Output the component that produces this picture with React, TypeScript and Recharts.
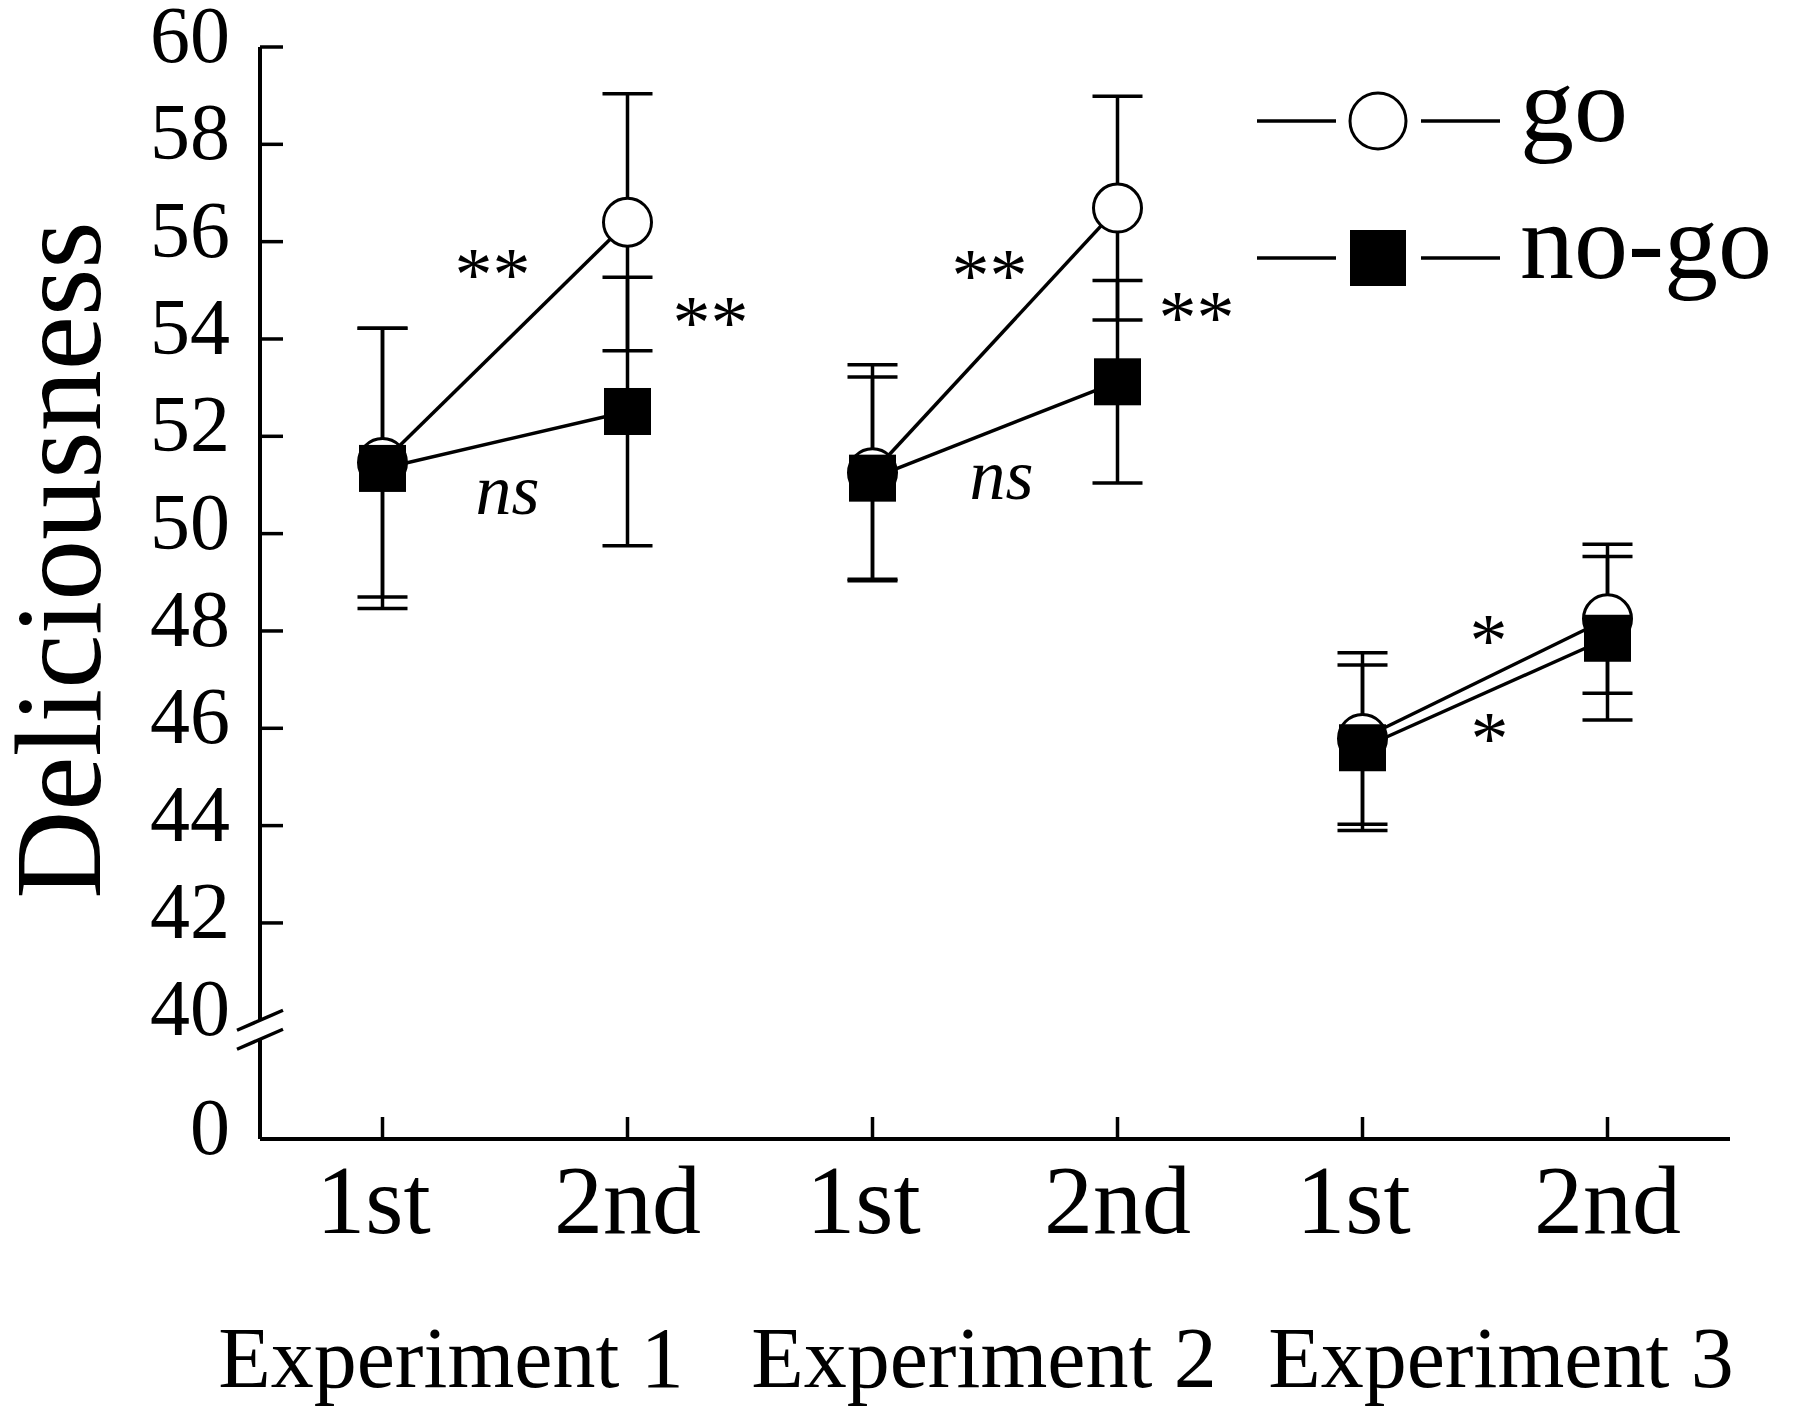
import React from "react";
import {
  LineChart,
  Line,
  XAxis,
  YAxis,
  ErrorBar,
  ReferenceLine,
  ReferenceDot,
  Legend,
  Label,
} from "recharts";

// values (mean ± error per session)
const categories = ["1st", "2nd", "1st", "2nd", "1st", "2nd"];
const experiments = ["Experiment 1", "Experiment 2", "Experiment 3"];
const goMean = [51.46, 56.4, 51.25, 56.69, 45.79, 48.25];
const goErr = [2.76, 2.64, 2.22, 2.3, 1.76, 1.53];
const nogoMean = [51.34, 52.51, 51.14, 53.12, 45.6, 47.85];
const nogoErr = [2.88, 2.76, 2.08, 2.08, 1.7, 1.68];
const seriesNames = ["go", "no-go"];

// axis: broken between 0 and 40, the floor stands in for "0"
const Y_FLOOR = 37.56;
const yTicks = [40, 42, 44, 46, 48, 50, 52, 54, 56, 58, 60];

// significance marks
const annotLabels = ["**", "**", "ns", "**", "**", "ns", "*", "*"];
const annotIndex = [1, 1, 1, 3, 3, 3, 5, 5];
const annotValue = [55.54, 54.55, 50.73, 55.52, 54.66, 51.04, 48.02, 46.01];

// layout only
const annotDx = [-135, 83, -120, -128, 79, -116, -119, -118];
const expShift = [-54, -11, 16];
const HALF_BAND = 122.5;
const FONT = "'Liberation Serif', 'Times New Roman', serif";
const STROKE = 3.5;

const data = categories.map((cat, i) => {
  const e = Math.floor(i / 2);
  return {
    key: `${experiments[e]} ${cat}`,
    [`go${e}`]: goMean[i],
    [`goErr${e}`]: goErr[i],
    [`nogo${e}`]: nogoMean[i],
    [`nogoErr${e}`]: nogoErr[i],
  };
});

const GoDot = (props: any) => {
  const { cx, cy, index } = props;
  if (cx == null || cy == null) return <g key={`gd-${index}`} />;
  return (
    <circle key={`gd-${index}`} cx={cx} cy={cy} r={24} fill="#fff" stroke="#000" strokeWidth={3} />
  );
};

const NogoDot = (props: any) => {
  const { cx, cy, index } = props;
  if (cx == null || cy == null) return <g key={`nd-${index}`} />;
  return <rect key={`nd-${index}`} x={cx - 23.5} y={cy - 23.5} width={47} height={47} fill="#000" />;
};

const renderYTick = (props: any) => {
  const { x, y, payload, index } = props;
  const v = payload.value;
  const isFloor = v === Y_FLOOR;
  return (
    <g key={`yt-${index}`}>
      {!isFloor && v !== 40 && (
        <line x1={x + 30} x2={x + 53} y1={y} y2={y} stroke="#000" strokeWidth={STROKE} />
      )}
      <text x={x} y={y + 15} textAnchor="end" fontSize={80} fontFamily={FONT} fill="#000">
        {isFloor ? "0" : v}
      </text>
    </g>
  );
};

const renderXTick = (props: any) => {
  const { x, y, index } = props;
  const e = Math.floor(index / 2);
  const first = index % 2 === 0;
  return (
    <g key={`xt-${index}`}>
      <line x1={x} x2={x} y1={y} y2={y - 22} stroke="#000" strokeWidth={STROKE} />
      <text
        x={first ? x - 9 : x}
        y={y + 94}
        textAnchor="middle"
        fontSize={98}
        fontFamily={FONT}
        fill="#000"
      >
        {categories[index]}
      </text>
      {first && (
        <text
          x={x + HALF_BAND + expShift[e]}
          y={y + 248}
          textAnchor="middle"
          fontSize={86}
          fontFamily={FONT}
          fill="#000"
        >
          {experiments[e]}
        </text>
      )}
    </g>
  );
};

const renderYLabel = (props: any) => {
  const vb = props.viewBox || { x: 0, y: 39 };
  const cx = vb.x + 92;
  const cy = vb.y + 513;
  return (
    <text
      x={cx}
      y={cy}
      transform={`rotate(-90, ${cx}, ${cy})`}
      textAnchor="middle"
      fontSize={122}
      fontFamily={FONT}
      fill="#000"
    >
      Deliciousness
    </text>
  );
};

// break marks on the y axis at 40
const renderBreak = (props: any) => {
  const ax = Math.min(props.x1, props.x2);
  const y = props.y1;
  return (
    <g>
      <rect x={ax - 5} y={y} width={10} height={19} fill="#fff" />
      <line x1={ax - 23} y1={y + 10} x2={ax + 23} y2={y - 10} stroke="#000" strokeWidth={STROKE} />
      <line x1={ax - 23} y1={y + 29} x2={ax + 23} y2={y + 9} stroke="#000" strokeWidth={STROKE} />
    </g>
  );
};

const renderAnnot = (p: any, i: number) => {
  const t = annotLabels[i];
  const italic = t === "ns";
  const size = italic ? 72 : 76;
  const base = italic ? 16 : 36;
  return (
    <text
      x={p.cx + annotDx[i]}
      y={p.cy + base}
      textAnchor="middle"
      fontSize={size}
      fontStyle={italic ? "italic" : "normal"}
      fontFamily={FONT}
      fill="#000"
    >
      {t}
    </text>
  );
};

const renderLegend = () => (
  <svg width={560} height={340} style={{ display: "block", overflow: "visible" }}>
    {seriesNames.map((name, i) => {
      const y = 113 + i * 137;
      return (
        <g key={name}>
          <line x1={9} x2={88} y1={y} y2={y} stroke="#000" strokeWidth={STROKE} />
          <line x1={173} x2={252} y1={y} y2={y} stroke="#000" strokeWidth={STROKE} />
          {i === 0 ? (
            <circle cx={130} cy={y} r={28} fill="#fff" stroke="#000" strokeWidth={3} />
          ) : (
            <rect x={102} y={y - 28} width={56} height={56} fill="#000" />
          )}
          <text x={272} y={y + 20} fontSize={108} fontFamily={FONT} fill="#000">
            {name}
          </text>
        </g>
      );
    })}
  </svg>
);

export default function App() {
  return (
    <div style={{ width: 1792, height: 1399 }}>
      <LineChart
        width={1792}
        height={1399}
        data={data}
        margin={{ top: 39, right: 70, bottom: 0, left: 0 }}
      >
        <XAxis
          dataKey="key"
          type="category"
          scale="point"
          padding={{ left: HALF_BAND, right: HALF_BAND }}
          height={268}
          interval={0}
          tickLine={false}
          tickSize={0}
          tickMargin={0}
          axisLine={{ stroke: "#000", strokeWidth: 4 }}
          tick={renderXTick}
        />
        <YAxis
          type="number"
          domain={[Y_FLOOR, 60]}
          ticks={[Y_FLOOR, ...yTicks]}
          interval={0}
          width={252}
          allowDataOverflow
          tickLine={false}
          tickSize={0}
          tickMargin={30}
          axisLine={{ stroke: "#000", strokeWidth: 4 }}
          tick={renderYTick}
        >
          <Label content={renderYLabel} />
        </YAxis>
        <ReferenceLine y={40} stroke="none" shape={renderBreak} zIndex={1500} />
        {[0, 1, 2].map((e) => (
          <Line
            key={`go${e}`}
            dataKey={`go${e}`}
            name="go"
            stroke="#000"
            strokeWidth={STROKE}
            dot={GoDot}
            activeDot={false}
            isAnimationActive={false}
            legendType="none"
          >
            <ErrorBar dataKey={`goErr${e}`} width={25} strokeWidth={STROKE} stroke="#000" direction="y" />
          </Line>
        ))}
        {[0, 1, 2].map((e) => (
          <Line
            key={`nogo${e}`}
            dataKey={`nogo${e}`}
            name="no-go"
            stroke="#000"
            strokeWidth={STROKE}
            dot={NogoDot}
            activeDot={false}
            isAnimationActive={false}
            legendType="none"
          >
            <ErrorBar dataKey={`nogoErr${e}`} width={25} strokeWidth={STROKE} stroke="#000" direction="y" />
          </Line>
        ))}
        {annotLabels.map((t, i) => (
          <ReferenceDot
            key={`an-${i}`}
            x={data[annotIndex[i]].key}
            y={annotValue[i]}
            r={0}
            shape={(p: any) => renderAnnot(p, i)}
          />
        ))}
        <Legend
          layout="vertical"
          align="center"
          verticalAlign="middle"
          wrapperStyle={{ left: 1240, top: 0, width: 560, height: 340 }}
          content={renderLegend}
        />
      </LineChart>
    </div>
  );
}
